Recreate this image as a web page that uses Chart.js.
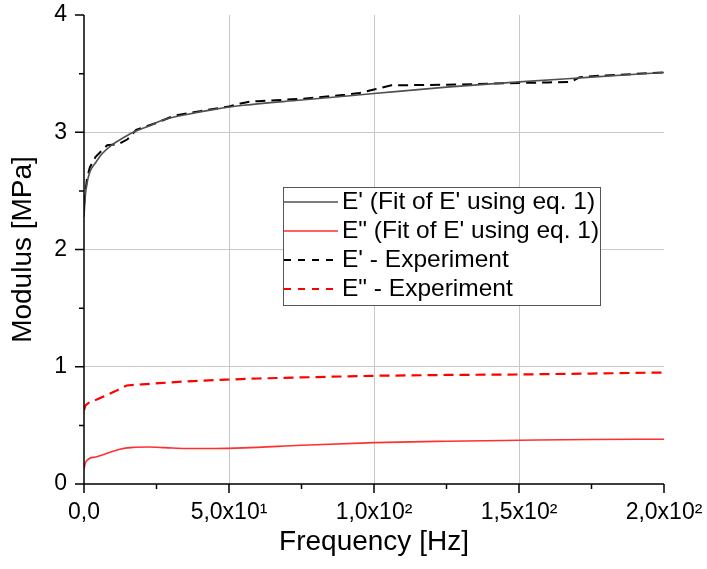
<!DOCTYPE html>
<html>
<head>
<meta charset="utf-8">
<script src="https://cdn.jsdelivr.net/npm/chart.js@4.4.0/dist/chart.umd.min.js"></script>
<style>
  html, body { margin: 0; padding: 0; background: #fff; }
</style>
</head>
<body>
<canvas id="graphCanvas" width="707" height="569"></canvas>
<script>
// frequency [Hz] for both fitted curves
var fitFreq = [0, 0.5, 1, 2, 4, 6, 9, 12, 17, 22, 28, 35, 45, 55, 75, 100, 125, 150, 175, 200];
var fitStorage = [2.28, 2.47, 2.56, 2.66, 2.74, 2.81, 2.88, 2.93, 3.00, 3.05, 3.11, 3.15, 3.195, 3.23, 3.275, 3.33, 3.385, 3.43, 3.47, 3.51];
var fitLoss = [0.13, 0.18, 0.20, 0.22, 0.23, 0.245, 0.27, 0.295, 0.312, 0.315, 0.31, 0.303, 0.303, 0.308, 0.33, 0.353, 0.365, 0.373, 0.38, 0.382];

// experiment E'
var expStorageFreq = [0, 1, 2, 4, 8, 12, 15, 18, 25, 31, 40, 50, 54, 57, 60, 75, 90, 95, 100, 106, 125, 150, 160, 168, 171, 180, 200];
var expStorage = [2.38, 2.6, 2.7, 2.79, 2.89, 2.90, 2.94, 3.02, 3.08, 3.14, 3.18, 3.22, 3.245, 3.26, 3.265, 3.285, 3.32, 3.335, 3.365, 3.40, 3.405, 3.42, 3.425, 3.43, 3.47, 3.485, 3.51];

// experiment E''
var expLossFreq = [0, 0.5, 2, 4.4, 8, 10.7, 14.7, 20, 26, 35, 49, 60, 80, 100, 125, 150, 175, 200];
var expLoss = [0.63, 0.67, 0.70, 0.72, 0.76, 0.79, 0.84, 0.85, 0.86, 0.875, 0.89, 0.90, 0.912, 0.923, 0.93, 0.934, 0.942, 0.951];

var seriesNames = ["E' (Fit of E' using eq. 1)", 'E" (Fit of E\' using eq. 1)', "E' - Experiment", 'E" - Experiment'];

var xTicks = [0, 50, 100, 150, 200];
var xTickLabels = ['0,0', '5,0x10\u00b9', '1,0x10\u00b2', '1,5x10\u00b2', '2,0x10\u00b2'];
var xMinorTicks = [25, 75, 125, 175];
var yTicks = [0, 1, 2, 3, 4];
var yMinorTicks = [0.5, 1.5, 2.5, 3.5];

var FONT = "'Liberation Sans', Arial, sans-serif";

function pts(xs, ys) {
    var out = [];
    for (var i = 0; i < xs.length; i++) {
        out.push({x: xs[i], y: ys[i]});
    }
    return out;
}

var axisPlugin = {
    id: 'axisTicks',
    afterDatasetsDraw: function(chart) {
        var ctx = chart.ctx;
        var a = chart.chartArea;
        var xs = chart.scales.x, ys = chart.scales.y;
        ctx.save();
        ctx.strokeStyle = '#000';
        ctx.lineWidth = 1.5;
        ctx.beginPath();
        ctx.moveTo(a.left, a.top);
        ctx.lineTo(a.left, a.bottom);
        ctx.lineTo(a.right, a.bottom);
        xTicks.forEach(function(v) {
            var p = xs.getPixelForValue(v);
            ctx.moveTo(p, a.bottom);
            ctx.lineTo(p, a.bottom + 9);
        });
        xMinorTicks.forEach(function(v) {
            var p = xs.getPixelForValue(v);
            ctx.moveTo(p, a.bottom);
            ctx.lineTo(p, a.bottom + 5);
        });
        yTicks.forEach(function(v) {
            var p = ys.getPixelForValue(v);
            ctx.moveTo(a.left, p);
            ctx.lineTo(a.left - 9, p);
        });
        yMinorTicks.forEach(function(v) {
            var p = ys.getPixelForValue(v);
            ctx.moveTo(a.left, p);
            ctx.lineTo(a.left - 5, p);
        });
        ctx.stroke();
        ctx.restore();
    }
};

var legendPlugin = {
    id: 'boxLegend',
    afterDraw: function(chart) {
        var ctx = chart.ctx;
        var box = {left: 283, top: 187, width: 317, height: 118};
        ctx.save();
        ctx.fillStyle = '#fff';
        ctx.fillRect(box.left, box.top, box.width, box.height);
        ctx.strokeStyle = '#555';
        ctx.lineWidth = 1;
        ctx.strokeRect(box.left + 0.5, box.top + 0.5, box.width, box.height);
        ctx.font = '24.5px ' + FONT;
        ctx.textBaseline = 'middle';
        ctx.fillStyle = '#000';
        chart.data.datasets.forEach(function(ds, i) {
            var y = box.top + 15 + i * 29;
            ctx.beginPath();
            ctx.strokeStyle = ds.borderColor;
            ctx.lineWidth = ds.borderWidth;
            ctx.setLineDash(ds.borderDash ? [7, 7] : []);
            ctx.moveTo(box.left + 1, y);
            ctx.lineTo(box.left + 55, y);
            ctx.stroke();
            ctx.setLineDash([]);
            ctx.fillText(ds.label, box.left + 59, y);
        });
        ctx.restore();
    }
};

var gridColor = function(ends) {
    return function(c) {
        if (!c.tick || ends.indexOf(c.tick.value) >= 0) return 'rgba(0,0,0,0)';
        return '#c8c8c8';
    };
};

var chartdata = {
    datasets: [{
        label: seriesNames[0],
        data: pts(fitFreq, fitStorage),
        borderColor: '#505050',
        borderWidth: 1.6,
        cubicInterpolationMode: 'monotone'
    }, {
        label: seriesNames[1],
        data: pts(fitFreq, fitLoss),
        borderColor: '#ff3030',
        borderWidth: 1.6,
        cubicInterpolationMode: 'monotone'
    }, {
        label: seriesNames[2],
        data: pts(expStorageFreq, expStorage),
        borderColor: '#000000',
        borderWidth: 2,
        borderDash: [10, 6]
    }, {
        label: seriesNames[3],
        data: pts(expLossFreq, expLoss),
        borderColor: '#ff0000',
        borderWidth: 2.2,
        borderDash: [10, 6]
    }]
};

var graphTarget = document.getElementById('graphCanvas');

var lineGraph = new Chart(graphTarget, {
    type: 'line',
    data: chartdata,
    options: {
        responsive: false,
        animation: false,
        devicePixelRatio: 1,
        layout: { padding: { top: 15, right: 43, left: 0, bottom: 0 } },
        elements: { point: { radius: 0 }, line: { tension: 0 } },
        plugins: { legend: { display: false }, tooltip: { enabled: false } },
        scales: {
            x: {
                type: 'linear',
                min: 0,
                max: 200,
                border: { display: false },
                grid: { color: gridColor([0, 200]), lineWidth: 1, drawTicks: false },
                ticks: {
                    stepSize: 50,
                    autoSkip: false,
                    maxRotation: 0,
                    padding: 15,
                    color: '#000',
                    font: { family: FONT, size: 23 },
                    callback: function(v) {
                        var k = xTicks.indexOf(v);
                        return k >= 0 ? xTickLabels[k] : '';
                    }
                },
                title: {
                    display: true,
                    text: 'Frequency [Hz]',
                    color: '#000',
                    font: { family: FONT, size: 28 },
                    padding: { top: 0, bottom: 10 }
                },
                afterFit: function(s) {
                    s.height = 85;
                    s.paddingLeft = 0;
                    s.paddingRight = 0;
                }
            },
            y: {
                min: 0,
                max: 4,
                border: { display: false },
                grid: { color: gridColor([0, 4]), lineWidth: 1, drawTicks: false },
                ticks: {
                    stepSize: 1,
                    padding: 17,
                    color: '#000',
                    font: { family: FONT, size: 23 },
                    callback: function(v) {
                        return yTicks.indexOf(v) >= 0 ? String(v) : '';
                    }
                },
                title: {
                    display: true,
                    text: 'Modulus [MPa]',
                    color: '#000',
                    font: { family: FONT, size: 28 },
                    padding: { top: 6, bottom: 0 }
                },
                afterFit: function(s) {
                    s.width = 84;
                    s.paddingTop = 0;
                    s.paddingBottom = 0;
                }
            }
        }
    },
    plugins: [axisPlugin, legendPlugin]
});
</script>
</body>
</html>
